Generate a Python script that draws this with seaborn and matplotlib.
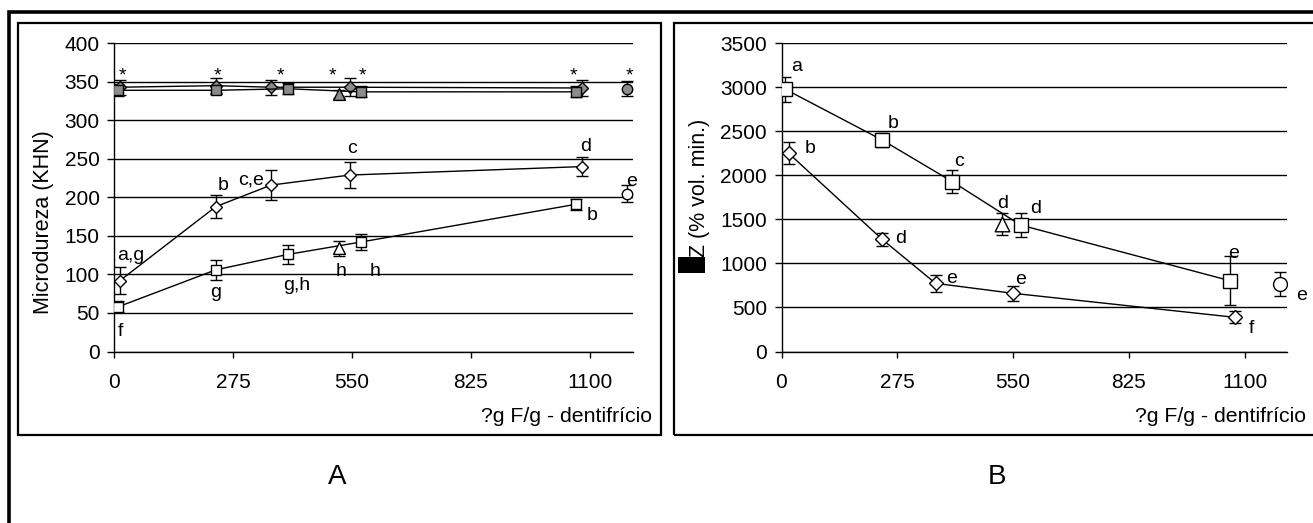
import matplotlib
matplotlib.use("Agg")
import matplotlib.pyplot as plt
from matplotlib.patches import Rectangle
import seaborn as sns

# ---------------- data ----------------
x_ticks = [0, 275, 550, 825, 1100]
a_y_ticks = [0, 50, 100, 150, 200, 250, 300, 350, 400]
b_y_ticks = [0, 500, 1000, 1500, 2000, 2500, 3000, 3500]

# Panel A  (Microdureza, KHN)
a_gray_dia_x = [13, 235, 363, 545, 1083]
a_gray_dia_y = [343, 345, 343, 343, 342]
a_gray_dia_e = [10, 10, 10, 12, 10]
a_gray_sq_x = [9, 235, 402, 570, 1068]
a_gray_sq_y = [339, 339, 341, 337, 337]
a_gray_sq_e = [8, 5, 7, 7, 7]
a_gray_tri_x = [521]
a_gray_tri_y = [334]
a_gray_tri_e = [5]
a_gray_circ_x = [1187]
a_gray_circ_y = [341]
a_gray_circ_e = [10]

a_dia_x = [13, 235, 363, 545, 1083]
a_dia_y = [92, 188, 216, 229, 240]
a_dia_e = [18, 15, 19, 17, 12]
a_sq_x = [9, 235, 402, 570, 1068]
a_sq_y = [58, 106, 126, 142, 191]
a_sq_e = [7, 13, 12, 10, 7]
a_tri_x = [521]
a_tri_y = [134]
a_tri_e = [10]
a_circ_x = [1187]
a_circ_y = [205]
a_circ_e = [11]

a_letters = ["a,g", "b", "c,e", "c", "d", "e", "b", "h", "h", "g", "g,h", "f"]
a_letter_x = [38, 252, 316, 550, 1092, 1197, 1107, 526, 604, 235, 423, 15]
a_letter_y = [125, 216, 223, 264, 266, 221, 177, 104, 104, 76, 86, 26]
a_star_x = [18, 238, 384, 506, 575, 1063, 1192]
a_star_y = [358, 358, 358, 358, 358, 358, 358]

# Panel B  (delta Z, % vol. min.)
b_sq_x = [9.5, 239, 406, 568, 1065]
b_sq_y = [2977, 2402, 1928, 1436, 804]
b_sq_e = [145, 75, 130, 133, 275]
b_dia_x = [17, 239, 366, 550, 1077]
b_dia_y = [2251, 1274, 774, 661, 388]
b_dia_e = [125, 75, 95, 82, 70]
b_tri_x = [523]
b_tri_y = [1448]
b_tri_e = [120]
b_circ_x = [1184]
b_circ_y = [763]
b_circ_e = [138]

b_letters = ["a", "b", "b", "c", "d", "d", "d", "e", "e", "e", "e", "f"]
b_letter_x = [37, 264, 69, 421, 526, 603, 284, 403, 568, 1074, 1235, 1117]
b_letter_y = [3234, 2591, 2300, 2155, 1683, 1626, 1285, 831, 812, 1115, 641, 263]

x_label = "?g F/g - dentifrício"
a_y_label = "Microdureza (KHN)"
b_y_label = "Z (% vol. min.)"

# ---------------- style ----------------
sns.set_theme(style="white")
plt.rcParams["font.family"] = ["Liberation Sans", "DejaVu Sans"]

W, H = 1313, 523
fig = plt.figure(figsize=(W / 100, H / 100), dpi=100)


def px_rect(x0, y0, x1, y1):
    return [x0 / W, (H - y1) / H, (x1 - x0) / W, (y1 - y0) / H]


GRAY = "#8c8c8c"


def series(ax, x, y, e, marker, ms, fc, connect, cap=4):
    ax.errorbar(x, y, yerr=e, fmt="none", ecolor="black", elinewidth=1,
                capsize=cap, capthick=1, zorder=2)
    if connect:
        sns.lineplot(x=x, y=y, ax=ax, color="black", lw=1, marker=marker,
                     markersize=ms, markerfacecolor=fc, markeredgecolor="black",
                     markeredgewidth=1, estimator=None, sort=False,
                     legend=False, zorder=3)
    else:
        sns.scatterplot(x=x, y=y, ax=ax, marker=marker, s=ms ** 2, color=fc,
                        edgecolor="black", linewidth=1, legend=False, zorder=4)


def style_axes(ax, yticks):
    ax.set_xlim(0, 1200)
    ax.set_ylim(yticks[0], yticks[-1])
    ax.set_xticks(x_ticks)
    ax.set_yticks(yticks)
    ax.yaxis.grid(True, color="black", lw=1)
    ax.xaxis.grid(False)
    ax.set_axisbelow(True)
    for s in ["top", "right"]:
        ax.spines[s].set_visible(False)
    for s in ["left", "bottom"]:
        ax.spines[s].set_color("black")
        ax.spines[s].set_linewidth(1)
    ax.tick_params(axis="y", left=True, direction="out", length=5, width=1,
                   pad=5.5, labelsize=15, color="black", labelcolor="black")
    ax.tick_params(axis="x", bottom=True, direction="out", length=4.2, width=1,
                   pad=11.5, labelsize=15, color="black", labelcolor="black")
    ax.set_xlabel("")
    ax.set_ylabel("")
    ax.patch.set_alpha(0)


# frames
fig.patches.append(Rectangle((9 / W, (H - 560) / H), (1330 - 9) / W, (560 - 12) / H,
                             transform=fig.transFigure, fill=False, lw=2.6,
                             edgecolor="black"))
for (x0, x1) in [(17.7, 660.7), (674, 1318)]:
    r = px_rect(x0, 23, x1, 435)
    fig.patches.append(Rectangle((r[0], r[1]), r[2], r[3], transform=fig.transFigure,
                                 fill=False, lw=1.6, edgecolor="black"))

# ---------------- panel A ----------------
axA = fig.add_axes(px_rect(114.3, 43.3, 632.7, 351.5))
series(axA, a_gray_dia_x, a_gray_dia_y, a_gray_dia_e, "D", 6.5, GRAY, True)
series(axA, a_gray_sq_x, a_gray_sq_y, a_gray_sq_e, "s", 7, GRAY, True)
series(axA, a_gray_tri_x, a_gray_tri_y, a_gray_tri_e, "^", 8.5, GRAY, False)
series(axA, a_gray_circ_x, a_gray_circ_y, a_gray_circ_e, "o", 7.5, GRAY, False)
series(axA, a_dia_x, a_dia_y, a_dia_e, "D", 6.5, "white", True)
series(axA, a_sq_x, a_sq_y, a_sq_e, "s", 7, "white", True)
series(axA, a_tri_x, a_tri_y, a_tri_e, "^", 8.5, "white", False)
series(axA, a_circ_x, a_circ_y, a_circ_e, "o", 7.5, "white", False)
style_axes(axA, a_y_ticks)
for t, x, y in zip(a_letters, a_letter_x, a_letter_y):
    axA.text(x, y, t, ha="center", va="center", fontsize=14, color="black", zorder=6)
for x, y in zip(a_star_x, a_star_y):
    axA.text(x, y, "*", ha="center", va="center", fontsize=14, color="black", zorder=6)

# ---------------- panel B ----------------
axB = fig.add_axes(px_rect(781.5, 43.3, 1286.7, 351.5))
series(axB, b_sq_x, b_sq_y, b_sq_e, "s", 10, "white", True)
series(axB, b_dia_x, b_dia_y, b_dia_e, "D", 7.5, "white", True)
series(axB, b_tri_x, b_tri_y, b_tri_e, "^", 10.5, "white", False)
series(axB, b_circ_x, b_circ_y, b_circ_e, "o", 10, "white", False)
style_axes(axB, b_y_ticks)
for t, x, y in zip(b_letters, b_letter_x, b_letter_y):
    axB.text(x, y, t, ha="center", va="center", fontsize=14, color="black", zorder=6)

# ---------------- labels ----------------
fig.text(43.7 / W, (H - 222) / H, a_y_label, rotation=90, ha="center", va="center",
         fontsize=15.5, color="black")
fig.text(699 / W, (H - 257) / H, b_y_label, rotation=90, ha="center", va="bottom",
         fontsize=15.5, color="black")
fig.patches.append(Rectangle((678 / W, (H - 273) / H), 27 / W, 16 / H,
                             transform=fig.transFigure, color="black", lw=0))
fig.text(651.7 / W, (H - 416.7) / H, x_label, ha="right", va="center",
         fontsize=15.3, color="black")
fig.text(1306 / W, (H - 416.7) / H, x_label, ha="right", va="center",
         fontsize=15.3, color="black")
fig.text(336.7 / W, (H - 476.7) / H, "A", ha="center", va="center", fontsize=20,
         color="black")
fig.text(997 / W, (H - 476.7) / H, "B", ha="center", va="center", fontsize=20,
         color="black")

fig.savefig("out.png", dpi=100, facecolor="white")
